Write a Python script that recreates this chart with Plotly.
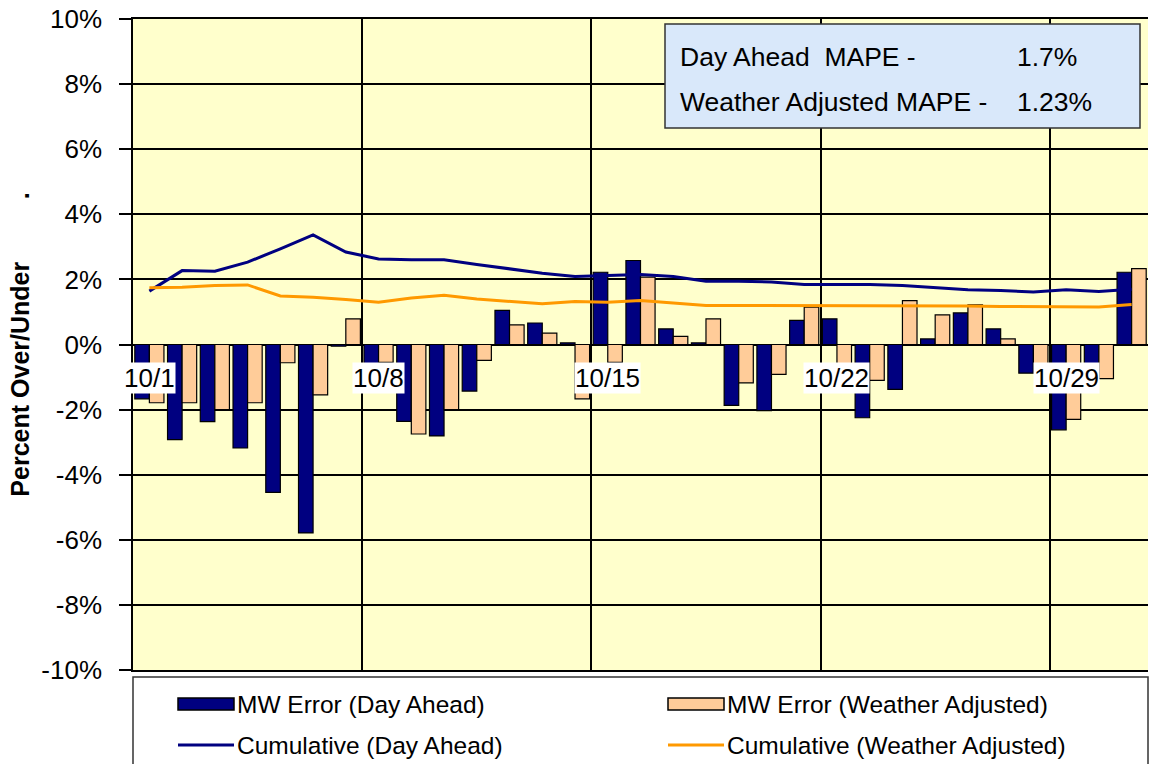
import plotly.graph_objects as go

# Daily forecast error for October, in percent over/under actual load
dates = ["10/1", "10/2", "10/3", "10/4", "10/5", "10/6", "10/7",
         "10/8", "10/9", "10/10", "10/11", "10/12", "10/13", "10/14",
         "10/15", "10/16", "10/17", "10/18", "10/19", "10/20", "10/21",
         "10/22", "10/23", "10/24", "10/25", "10/26", "10/27", "10/28",
         "10/29", "10/30", "10/31"]

da_error = [-1.67, -2.92, -2.37, -3.18, -4.54, -5.79, -0.05,
            -0.70, -2.36, -2.81, -1.43, 1.05, 0.66, 0.05,
            2.22, 2.58, 0.48, 0.05, -1.87, -2.03, 0.74,
            0.79, -2.25, -1.38, 0.17, 0.97, 0.48, -0.88,
            -2.62, -0.75, 2.22]

wa_error = [-1.79, -1.79, -2.00, -1.79, -0.56, -1.55, 0.79,
            -0.55, -2.75, -2.00, -0.49, 0.60, 0.35, -1.67,
            -0.55, 2.07, 0.25, 0.79, -1.18, -0.92, 1.15,
            -1.10, -1.10, 1.35, 0.91, 1.22, 0.17, -0.85,
            -2.30, -1.05, 2.33]

da_cumulative = [1.64, 2.27, 2.25, 2.53, 2.94, 3.37, 2.84,
                 2.63, 2.60, 2.60, 2.46, 2.33, 2.19, 2.09,
                 2.12, 2.15, 2.09, 1.94, 1.94, 1.92, 1.84,
                 1.84, 1.84, 1.81, 1.74, 1.68, 1.66, 1.61,
                 1.68, 1.63, 1.70]

wa_cumulative = [1.74, 1.76, 1.81, 1.83, 1.49, 1.45, 1.38,
                 1.30, 1.43, 1.51, 1.40, 1.32, 1.25, 1.32,
                 1.30, 1.35, 1.27, 1.20, 1.20, 1.20, 1.20,
                 1.18, 1.18, 1.18, 1.18, 1.18, 1.17, 1.17,
                 1.17, 1.15, 1.23]

series_names = ["MW Error (Day Ahead)", "MW Error (Weather Adjusted)",
                "Cumulative (Day Ahead)", "Cumulative (Weather Adjusted)"]

da_mape = 1.7
wa_mape = 1.23

label_every = 7
y_ticks = [-10, -8, -6, -4, -2, 0, 2, 4, 6, 8, 10]

NAVY = "#000080"
PEACH = "#FFCC99"
ORANGE = "#FF9900"
FONT = "Liberation Sans, Arial, sans-serif"

W, H = 1151, 764
ML, MR, MT, MB = 133, 3, 19, 94
PW, PH = W - ML - MR, H - MT - MB

def px_x(x):
    return (x - ML) / PW

def px_y(y):
    return (H - MB - y) / PH

day = list(range(1, len(dates) + 1))

fig = go.Figure()
fig.add_trace(go.Bar(x=day, y=da_error, name=series_names[0],
                     marker=dict(color=NAVY, line=dict(color="#000000", width=1.2))))
fig.add_trace(go.Bar(x=day, y=wa_error, name=series_names[1],
                     marker=dict(color=PEACH, line=dict(color="#000000", width=1.2))))
fig.add_trace(go.Scatter(x=day, y=da_cumulative, name=series_names[2], mode="lines",
                         line=dict(color=NAVY, width=3)))
fig.add_trace(go.Scatter(x=day, y=wa_cumulative, name=series_names[3], mode="lines",
                         line=dict(color=ORANGE, width=3)))

# week separators sit on the boundary before each labelled date
week_bounds = [d - 0.5 for d in day[label_every::label_every]]

annotations = []
for i in range(0, len(dates), label_every):
    annotations.append(dict(x=day[i], y=0, xref="x", yref="y", text=dates[i],
                            showarrow=False, yanchor="top", yshift=-17,
                            bgcolor="white", borderpad=0,
                            font=dict(family=FONT, size=26, color="#000000")))

# MAPE summary box
shapes = [dict(type="rect", xref="paper", yref="paper",
               x0=px_x(665), x1=px_x(1140), y0=px_y(128), y1=px_y(24),
               fillcolor="#D9E8FA", line=dict(color="#333333", width=1.5), layer="above")]
mape_rows = [("Day Ahead\u00a0\u00a0MAPE -", f"{da_mape}%", 57),
             ("Weather Adjusted MAPE -", f"{wa_mape}%", 102)]
for label, value, yc in mape_rows:
    annotations.append(dict(x=px_x(678), y=px_y(yc), xref="paper", yref="paper",
                            text=label, showarrow=False, xanchor="left", yanchor="middle",
                            font=dict(family=FONT, size=26.5, color="#000000")))
    annotations.append(dict(x=px_x(1015), y=px_y(yc), xref="paper", yref="paper",
                            text=value, showarrow=False, xanchor="left", yanchor="middle",
                            font=dict(family=FONT, size=26.5, color="#000000")))

# legend panel below the plot
shapes.append(dict(type="rect", xref="paper", yref="paper",
                   x0=px_x(133), x1=px_x(1148), y0=px_y(785), y1=px_y(677),
                   fillcolor="white", line=dict(color="#333333", width=1.5)))
legend_items = [
    (series_names[0], "bar", NAVY, 178, 704),
    (series_names[1], "bar", PEACH, 668, 704),
    (series_names[2], "line", NAVY, 178, 745),
    (series_names[3], "line", ORANGE, 668, 745),
]
for name, kind, color, xs, yc in legend_items:
    if kind == "bar":
        shapes.append(dict(type="rect", xref="paper", yref="paper",
                           x0=px_x(xs), x1=px_x(xs + 56), y0=px_y(yc + 6), y1=px_y(yc - 6),
                           fillcolor=color, line=dict(color="#000000", width=1.5)))
    else:
        shapes.append(dict(type="line", xref="paper", yref="paper",
                           x0=px_x(xs), x1=px_x(xs + 56), y0=px_y(yc), y1=px_y(yc),
                           line=dict(color=color, width=3)))
    annotations.append(dict(x=px_x(xs + 57), y=px_y(yc), xref="paper", yref="paper",
                            text=name, showarrow=False, xanchor="left", yanchor="middle",
                            font=dict(family=FONT, size=24.5, color="#000000")))

fig.update_layout(
    width=W, height=H,
    margin=dict(l=ML, r=MR, t=MT, b=MB, pad=0),
    paper_bgcolor="white",
    plot_bgcolor="#FFFFCC",
    barmode="group", bargap=0.11, bargroupgap=0,
    showlegend=False,
    font=dict(family=FONT, color="#000000"),
    xaxis=dict(range=[0.5, len(dates) + 0.5], tickvals=week_bounds,
               showticklabels=False, ticks="", showgrid=True,
               gridcolor="#000000", gridwidth=1.5, zeroline=False,
               showline=True, linecolor="#000000", linewidth=1.5, mirror=True),
    yaxis=dict(range=[-10, 10], tickvals=y_ticks,
               ticktext=[f"{v}%" for v in y_ticks],
               ticks="outside", ticklen=12, tickwidth=1.5, tickcolor="#000000",
               ticklabelstandoff=12,
               tickfont=dict(family=FONT, size=26, color="#000000"),
               showgrid=True, gridcolor="#000000", gridwidth=1.5,
               zeroline=True, zerolinecolor="#000000", zerolinewidth=1.6,
               showline=True, linecolor="#000000", linewidth=1.5,
               title=dict(text="<b>Percent Over/Under" + "\u00a0" * 9 + ".</b>",
                          font=dict(family=FONT, size=25, color="#000000"),
                          standoff=5)),
    shapes=shapes,
    annotations=annotations,
)

fig.write_html("out.html")
